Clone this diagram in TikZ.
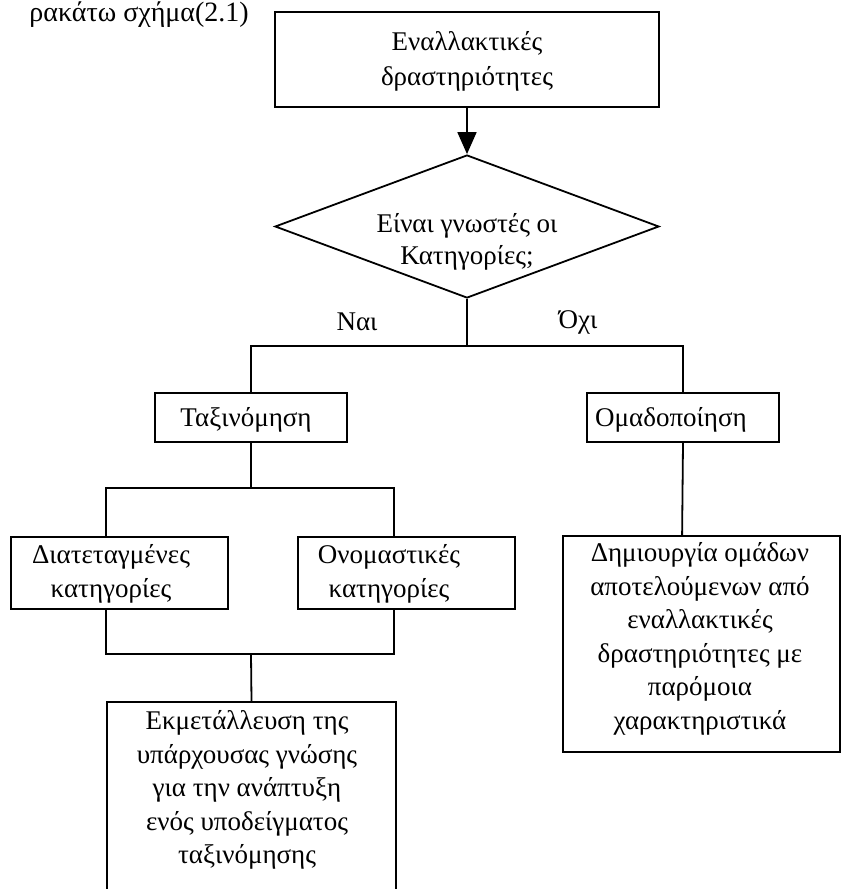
\documentclass[tikz,border=0pt]{standalone}
\usepackage{fontspec}
\setmainfont{Liberation Serif}
\usetikzlibrary{shapes.geometric,arrows.meta}
\begin{document}
\begin{tikzpicture}[x=1pt,y=-1pt,
  box/.style={draw,line width=1.8pt,rectangle,inner sep=0pt},
  txt/.style={align=center,inner sep=0pt,font=\fontsize{27}{33.5}\selectfont},
  conn/.style={line width=1.8pt}]
\useasboundingbox (0,0) rectangle (842,889);
\clip (0,0) rectangle (842,889);
% header text
\node[anchor=base east,inner sep=0pt,font=\fontsize{28}{32}\selectfont] (hdr) at (249,21) {ρακάτω σχήμα(2.1)};
% boxes
\node[box,minimum width=384pt,minimum height=95pt] (top) at (467,59.5) {};
\node[box,draw,shape=diamond,minimum width=384pt,minimum height=143pt] (dia) at (467,226.5) {};
\node[box,minimum width=192pt,minimum height=49pt] (tax) at (251,417.5) {};
\node[box,minimum width=192pt,minimum height=49pt] (omad) at (683,417.5) {};
\node[box,minimum width=217pt,minimum height=72pt] (diat) at (119.5,573) {};
\node[box,minimum width=217pt,minimum height=72pt] (onom) at (406.5,573) {};
\node[box,minimum width=289pt,minimum height=240pt] (ekm) at (251.5,822) {};
\node[box,minimum width=277pt,minimum height=216pt] (dim) at (701.5,644) {};
% texts
\node[txt] (ttop) at (467,61) {Εναλλακτικές\\[1.5pt]δραστηριότητες};
\node[txt] (tdia) at (467,242) {Είναι γνωστές οι\\[-2pt]Κατηγορίες;};
\node[txt] (nai) at (357,322) {Ναι};
\node[txt] (oxi) at (578,322) {Όχι};
\node[txt] (ttax) at (246,420) {Ταξινόμηση};
\node[txt] (tomad) at (671,420) {Ομαδοποίηση};
\node[txt] (tdiat) at (111,574) {Διατεταγμένες\\κατηγορίες};
\node[txt] (tonom) at (389,574) {Ονομαστικές\\κατηγορίες};
\node[txt] (tekm) at (247,790) {Εκμετάλλευση της\\υπάρχουσας γνώσης\\για την ανάπτυξη\\ενός υποδείγματος\\ταξινόμησης};
\node[txt] (tdim) at (700,639) {Δημιουργία ομάδων\\αποτελούμενων από\\εναλλακτικές\\δραστηριότητες με\\παρόμοια\\χαρακτηριστικά};
% connectors
\coordinate (j1) at (467,346);
\coordinate (j2) at (251,488);
\coordinate (j3) at (251,654);
\draw[conn,-{Triangle[length=22pt,width=19pt]}] (top.south) -- (dia.north);
\draw[conn] (dia.south) -- (j1);
\draw[conn] (tax.north) |- (omad.north |- j1) -- (omad.north);
\draw[conn] (tax.south) -- (j2);
\draw[conn] ([xshift=96pt]diat.north west) |- ([xshift=97pt]onom.north west |- j2) -- ([xshift=97pt]onom.north west);
\draw[conn] ([xshift=96pt]diat.south west) |- ([xshift=97pt]onom.south west |- j3) -- ([xshift=97pt]onom.south west);
\draw[conn] (j3) -- (ekm.north);
\draw[conn] (omad.south) -- ([xshift=120pt]dim.north west);
\end{tikzpicture}
\end{document}
